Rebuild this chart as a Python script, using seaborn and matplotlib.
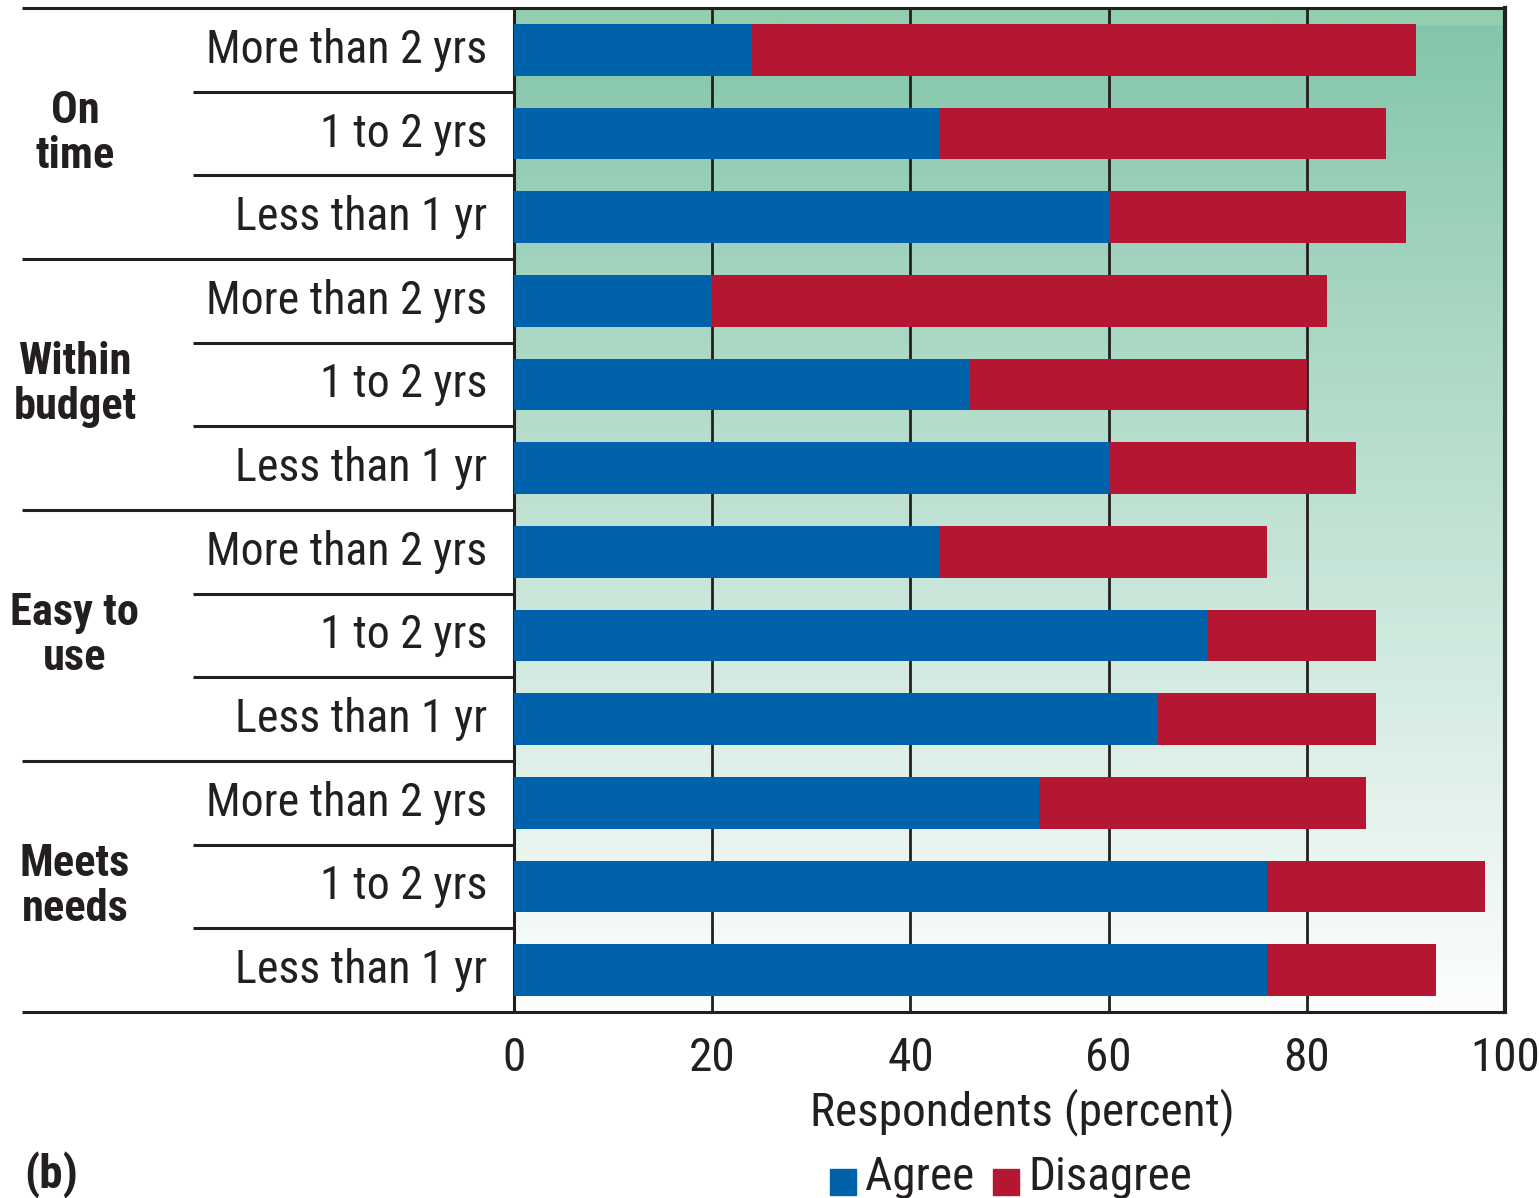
import numpy as np
import pandas as pd
import seaborn as sns
import matplotlib.pyplot as plt
import matplotlib.transforms as mtransforms
from matplotlib.colors import to_rgb
from matplotlib.lines import Line2D
from matplotlib.patches import Rectangle

# data (percent of respondents)
groups = ["On time", "Within budget", "Easy to use", "Meets needs"]
group_labels = ["On\ntime", "Within\nbudget", "Easy to\nuse", "Meets\nneeds"]
ages = ["More than 2 yrs", "1 to 2 yrs", "Less than 1 yr"]
agree = [24, 43, 60, 20, 46, 60, 43, 70, 65, 53, 76, 76]
disagree = [67, 45, 30, 62, 34, 25, 33, 17, 22, 33, 22, 17]

blue = "#0062ab"
red = "#b51631"
dark = "#231f20"

rows = [f"{g}|{a}" for g in groups for a in ages]
df = pd.DataFrame({
    "row": rows,
    "agree": agree,
    "disagree": disagree,
})
df["total"] = df["agree"] + df["disagree"]

sns.set_style("white")
plt.rcParams["font.family"] = ["Roboto Condensed", "Open Sans Condensed",
                               "Liberation Sans Narrow", "DejaVu Sans"]
plt.rcParams["font.stretch"] = "condensed"

W, H = 1539, 1198
fig = plt.figure(figsize=(W / 100, H / 100), dpi=100)
ax = fig.add_axes([514 / W, 1 - 1012 / H, (1505 - 514) / W, (1012 - 8) / H])

# gradient background (green at top fading to white)
n = 400
top = np.array(to_rgb("#82c5a9"))
bot = np.array(to_rgb("#fdfefd"))
t = np.linspace(0, 1, n)[:, None]
grad = top * (1 - t) + bot * t
grad[:7] = np.array(to_rgb("#93cfae"))
grad = np.repeat(grad[:, None, :], 2, axis=1)
ax.imshow(grad, extent=[0, 1, 0, 1], transform=ax.transAxes, aspect="auto", zorder=0)

sns.barplot(data=df, x="total", y="row", order=rows, color=red, width=0.62,
            saturation=1, orient="h", ax=ax, zorder=3, linewidth=0)
sns.barplot(data=df, x="agree", y="row", order=rows, color=blue, width=0.62,
            saturation=1, orient="h", ax=ax, zorder=4, linewidth=0)

ax.set_xlim(0, 100)
ax.set_ylim(11.5, -0.5)
ax.set_xticks([0, 20, 40, 60, 80, 100])
ax.xaxis.grid(True, color=dark, linewidth=2.0)
ax.set_axisbelow(False)
for line in ax.get_xgridlines():
    line.set_zorder(2)
ax.tick_params(axis="x", length=14, width=2.0, color=dark, direction="out",
               labelsize=34, pad=3, labelcolor=dark)
ax.set_yticks(range(len(rows)))
ax.set_yticklabels(ages * len(groups), va="center")
ax.tick_params(axis="y", length=0, labelsize=33, pad=19, labelcolor=dark)
for lab in ax.get_yticklabels():
    lab.set_y(lab.get_position()[1])
ax.set_xlabel("")
ax.set_ylabel("")
for s in ["left", "bottom", "top"]:
    ax.spines[s].set_color(dark)
    ax.spines[s].set_linewidth(2.2)
ax.spines["right"].set_color(dark)
ax.spines["right"].set_linewidth(3)
ax.spines["top"].set_visible(False)
ax.spines["bottom"].set_visible(False)

# separator lines to the left of the plot area
tr = mtransforms.blended_transform_factory(fig.transFigure, ax.transData)
for i in range(len(rows) + 1):
    y = i - 0.5
    x0 = 22 / W if i % 3 == 0 else 193 / W
    x1 = 1505 / W if i in (0, len(rows)) else 514 / W
    fig.add_artist(Line2D([x0, x1], [y, y], transform=tr, color=dark, lw=2.2,
                          solid_capstyle="butt"))

# group labels
for k, lab in enumerate(group_labels):
    fig.text(75 / W, 3 * k + 1, lab, transform=tr, ha="center", va="center",
             fontsize=32, fontweight="bold", color=dark, linespacing=1.1)

fig.text(1022 / W, 1 - 1112 / H, "Respondents (percent)", ha="center", va="center",
         fontsize=34, color=dark)
fig.text(24 / W, 1 - 1175 / H, "(b)", ha="left", va="center", fontsize=34,
         fontweight="bold", color=dark)

# legend
for x0, col, txt in [(830, blue, "Agree"), (993, red, "Disagree")]:
    fig.add_artist(Rectangle((x0 / W, 1 - 1195 / H), 26 / W, 26 / H,
                             transform=fig.transFigure, color=col))
    fig.text((x0 + 35) / W, 1 - 1177 / H, txt, ha="left", va="center",
             fontsize=34, color=dark)

fig.savefig("out.png", dpi=100)
